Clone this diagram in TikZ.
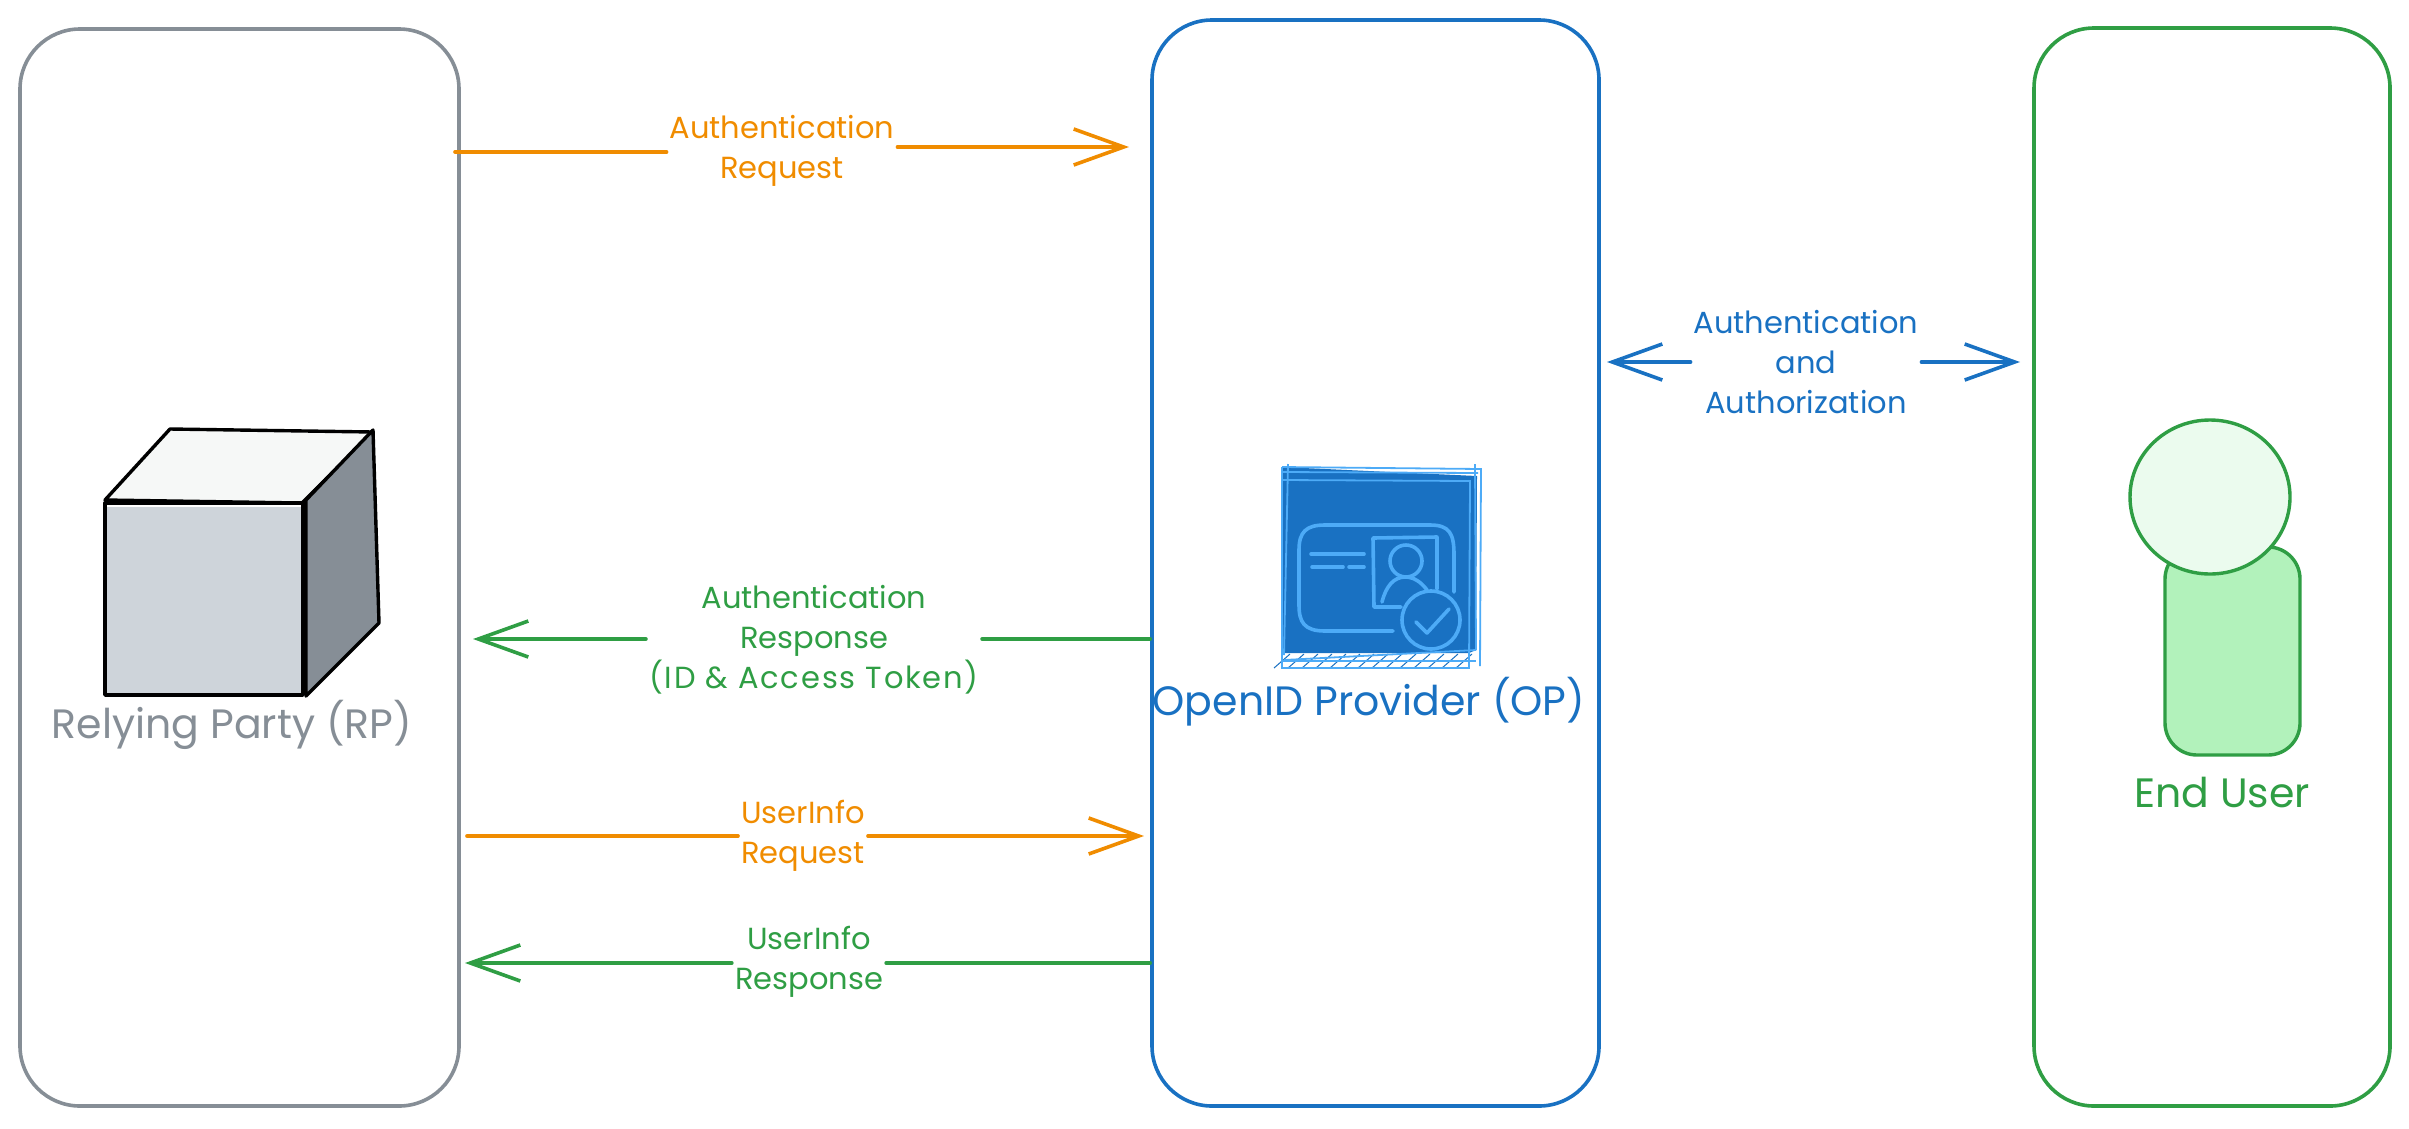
\documentclass[tikz,border=0pt]{standalone}
\usepackage{fontspec}
\setmainfont{Poppins}
\usetikzlibrary{arrows.meta,shapes.geometric}
\definecolor{rpgray}{HTML}{868E96}
\definecolor{opblue}{HTML}{1971C2}
\definecolor{skyblue}{HTML}{4DABF7}
\definecolor{eugreen}{HTML}{2F9E44}
\definecolor{reqorange}{HTML}{F08C00}
\definecolor{cubefront}{HTML}{CED4DA}
\definecolor{cubetop}{HTML}{F6F8F7}
\definecolor{bodyfill}{HTML}{B2F2BB}
\definecolor{headfill}{HTML}{EBFBEE}
\tikzset{
  panel/.style={draw,line width=3.6pt,rounded corners=60pt,fill=white,inner sep=0pt},
  flowlabel/.style={align=center,inner ysep=5pt,inner xsep=3pt,font=\fontsize{30.5}{40}\selectfont},
  title/.style={inner sep=0pt,font=\fontsize{41}{46}\selectfont},
  flow/.style={line width=3.6pt,line cap=round},
  flowtip/.style={flow,-{Straight Barb[length=50pt,width=36pt,line width=3.6pt]}},
  cubeline/.style={draw=black,line width=3.4pt,line join=round},
  sketch/.style={skyblue,line width=1.8pt},
  iconline/.style={skyblue,line width=3.6pt,line cap=round,line join=round}
}
\begin{document}
\begin{tikzpicture}[x=1pt,y=-1pt]
  \useasboundingbox (0,0) rectangle (2409,1128);

  \node[panel,draw=rpgray,minimum width=439pt,minimum height=1077pt] (rp) at (239.5,567.5) {};
  \node[panel,draw=opblue,minimum width=447pt,minimum height=1086pt] (op) at (1375.5,563) {};
  \node[panel,draw=eugreen,minimum width=356pt,minimum height=1078pt] (eu) at (2212,567) {};

  % cube
  \filldraw[cubeline,fill=cubetop] (105,500) -- (170,429) -- (373,432) -- (302,503) -- cycle;
  \filldraw[cubeline,fill=rpgray] (306,500) -- (373,430) -- (379,623) -- (306,696) -- cycle;
  \draw[cubeline,fill=white] (105,503) rectangle (303,695);
  \fill[cubefront] (107,507) rectangle (301,693);
  \node[title,text=rpgray] (rplabel) at (232,725) {Relying Party (RP)};

  % id card
  \fill[opblue] (1282,467) -- (1477,476) -- (1476,650) -- (1469,653) -- (1282,653) -- cycle;
  \fill[white] (1284,654) rectangle (1468,667);
  \foreach \x in {1290,1304,...,1472}
    \draw[opblue,line width=1pt] (\x,654) -- (\x-16,668);
  \foreach \y in {480,500,...,640}
    \draw[opblue,line width=1pt] (1291,\y) -- (1283,\y+10);
  \draw[sketch] (1282,467) -- (1481,469) -- (1480,666);
  \draw[sketch] (1282,472) -- (1478,473);
  \draw[sketch] (1475,464) -- (1476,650);
  \draw[sketch] (1282,480) -- (1470,481) -- (1469,668) -- (1282,668) -- (1282,467);
  \draw[sketch] (1288,464) -- (1284,655);
  \draw[sketch] (1283,661) -- (1476,661);
  \draw[sketch] (1284,660) -- (1476,650);
  \draw[iconline] (1393,631) -- (1325,631) .. controls (1304,631) and (1299,622) .. (1299,605)
    -- (1299,550) .. controls (1299,532) and (1306,525) .. (1325,525)
    -- (1430,525) .. controls (1450,525) and (1454,534) .. (1454,555) -- (1454,592);
  \draw[iconline] (1311,554) -- (1364,554);
  \draw[iconline] (1312,567) -- (1343,567);
  \draw[iconline] (1349,567) -- (1364,567);
  \draw[iconline] (1437,589) -- (1437,537) -- (1373,538) -- (1374,607) -- (1401,607);
  \draw[iconline] (1406,561) circle (16);
  \draw[iconline] (1382,602) .. controls (1386,586) and (1394,577) .. (1405,577)
    .. controls (1414,577) and (1421,582) .. (1427,590);
  \draw[iconline] (1431,620) circle (29);
  \draw[iconline] (1416,622) -- (1427,633) -- (1449,609);
  \node[title,text=opblue] (oplabel) at (1369,702) {OpenID Provider (OP)};

  % user
  \node[draw=eugreen,fill=bodyfill,line width=3.4pt,rounded corners=32pt,minimum width=135pt,minimum height=208pt] (body) at (2232.5,651) {};
  \node[draw=eugreen,fill=headfill,line width=3.4pt,ellipse,inner sep=0pt,minimum width=160pt,minimum height=154pt] (head) at (2210,497) {};
  \node[title,text=eugreen] (eulabel) at (2222,793) {End User};

  % flows
  \coordinate (reqa) at (455,152);
  \coordinate (reqb) at (1129,147);
  \node[flowlabel,text=reqorange] (reqlabel) at (782,151) {Authentication\\Request};
  \draw[flow,reqorange] (reqa) -- (reqa -| reqlabel.west);
  \draw[flowtip,reqorange] (reqb -| reqlabel.east) -- (reqb);

  \coordinate (authl) at (1607,362);
  \coordinate (authr) at (2020,362);
  \node[flowlabel,text=opblue] (authlabel) at (1806,362) {Authentication\\and\\Authorization};
  \draw[flowtip,opblue] (authl -| authlabel.west) -- (authl);
  \draw[flowtip,opblue] (authr -| authlabel.east) -- (authr);

  \coordinate (respa) at (op.west |- 0,639);
  \coordinate (respb) at (473,639);
  \node[flowlabel,text=eugreen] (resplabel) at (814,640) {Authentication\\Response\\\addfontfeatures{LetterSpace=6}(ID \& Access Token)};
  \draw[flow,eugreen] (respa) -- (respa -| resplabel.east);
  \draw[flowtip,eugreen] (respb -| resplabel.west) -- (respb);

  \coordinate (infoa) at (467,836);
  \coordinate (infob) at (1144,836);
  \node[flowlabel,text=reqorange] (infolabel) at (803,836) {UserInfo\\Request};
  \draw[flow,reqorange] (infoa) -- (infoa -| infolabel.west);
  \draw[flowtip,reqorange] (infob -| infolabel.east) -- (infob);

  \coordinate (backa) at (op.west |- 0,963);
  \coordinate (backb) at (465,963);
  \node[flowlabel,text=eugreen] (backlabel) at (809,962) {UserInfo\\Response};
  \draw[flow,eugreen] (backa) -- (backa -| backlabel.east);
  \draw[flowtip,eugreen] (backb -| backlabel.west) -- (backb);
\end{tikzpicture}
\end{document}
